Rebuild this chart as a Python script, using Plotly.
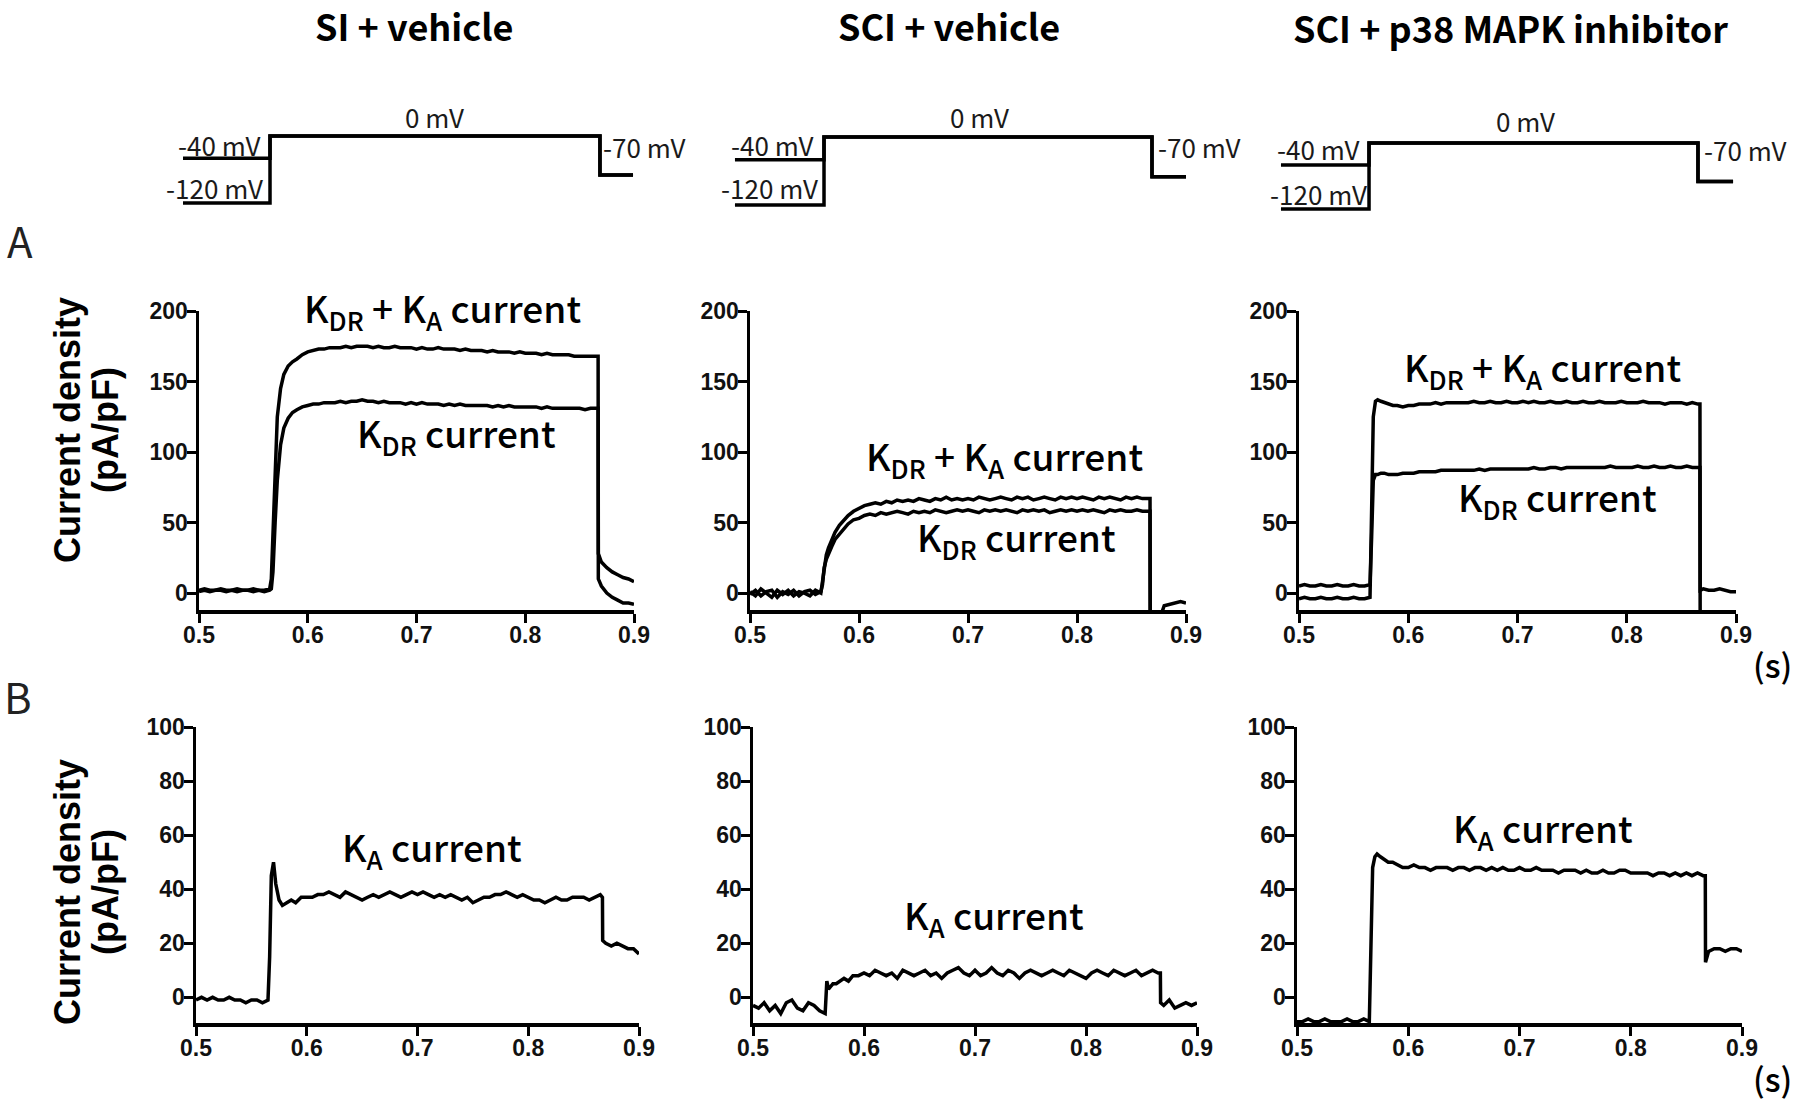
import plotly.graph_objects as go

# ---------------- time base (s) ----------------
t_base = [0.500, 0.505, 0.510, 0.515, 0.520, 0.525, 0.530, 0.535, 0.540, 0.545, 0.550, 0.555, 0.560, 0.565]
t_rise = [0.5665, 0.568, 0.570, 0.572, 0.575, 0.578, 0.582, 0.586, 0.590, 0.595]
t_plat = [0.600, 0.605, 0.610, 0.615, 0.620, 0.625, 0.630, 0.635, 0.640, 0.645,
          0.650, 0.655, 0.660, 0.665, 0.670, 0.675, 0.680, 0.685, 0.690, 0.695,
          0.700, 0.705, 0.710, 0.715, 0.720, 0.725, 0.730, 0.735, 0.740, 0.745,
          0.750, 0.755, 0.760, 0.765, 0.770, 0.775, 0.780, 0.785, 0.790, 0.795,
          0.800, 0.805, 0.810, 0.815, 0.820, 0.825, 0.830, 0.835, 0.840, 0.845,
          0.850, 0.855, 0.860, 0.865]
t_drop = [0.867, 0.8672]
t_tail = [0.870, 0.875, 0.880, 0.885, 0.890, 0.895, 0.900]
time_s = t_base + t_rise + t_plat + t_drop + t_tail

# ---------------- current densities (pA/pF) ----------------
# SI + vehicle
si_kdr_ka = [2, 3, 2, 2, 3, 2, 2, 3, 2, 2, 3, 2, 2, 3,
             10, 45, 95, 125, 145, 155, 161, 164, 166, 169,
             171, 172, 173, 173, 174, 174, 174, 175, 174, 175,
             175, 175, 174, 175, 174, 174, 175, 174, 174, 174,
             173, 174, 173, 173, 174, 173, 173, 173, 172, 173,
             172, 172, 172, 171, 172, 171, 171, 171, 170, 171,
             170, 170, 170, 169, 170, 169, 169, 169, 169, 168,
             168, 168, 168, 168,
             168, 28,
             22, 18, 15, 13, 11, 10, 8]
si_kdr = [1, 2, 1, 2, 2, 1, 2, 1, 2, 2, 1, 2, 1, 2,
          3, 15, 50, 80, 105, 117, 124, 128, 130, 132,
          133, 134, 134, 135, 135, 135, 136, 135, 136, 136,
          137, 136, 136, 135, 136, 135, 135, 135, 134, 135,
          134, 135, 134, 134, 134, 133, 134, 133, 134, 133,
          133, 133, 133, 133, 132, 133, 132, 133, 132, 132,
          132, 132, 132, 131, 132, 131, 131, 131, 131, 131,
          131, 130, 131, 131,
          131, 10,
          5, 0, -3, -5, -7, -7, -8]
si_ka = [-1, 0, -1, 0, -1, -1, 0, -1, -1, -2, -1, -1, -2, -1,
         15, 45, 50, 42, 36, 34, 35, 36, 35, 37,
         37, 37, 38, 38, 39, 38, 37, 39, 38, 37,
         36, 37, 38, 37, 38, 39, 38, 37, 38, 39,
         38, 39, 38, 37, 38, 37, 38, 37, 36, 37,
         35, 36, 37, 37, 38, 38, 39, 38, 37, 38,
         37, 36, 36, 35, 36, 37, 36, 36, 37, 37,
         37, 36, 37, 38,
         37, 21,
         20, 19, 20, 19, 18, 18, 16]

# SCI + vehicle
sci_kdr_ka = [1, -2, 3, 0, -3, 2, -1, 2, -2, 1, 0, -2, 2, 0,
              8, 20, 27, 32, 38, 43, 48, 52, 55, 58,
              60, 62, 63, 64, 63, 65, 64, 66, 65, 66,
              65, 67, 66, 65, 67, 66, 68, 66, 67, 66,
              67, 66, 68, 67, 66, 67, 68, 67, 66, 68,
              67, 68, 66, 67, 68, 67, 66, 68, 67, 68,
              67, 68, 67, 66, 68, 67, 68, 67, 66, 68,
              67, 68, 67, 67,
              67, -20,
              -20, -20, -9, -8, -7, -6, -7]
sci_kdr = [-1, 2, -2, 1, 2, -3, 1, -1, 2, -2, 1, 2, -1, 1,
           6, 18, 24, 28, 33, 38, 42, 46, 49, 52,
           53, 55, 56, 55, 57, 56, 57, 58, 57, 56,
           58, 57, 58, 57, 59, 58, 57, 58, 59, 58,
           59, 58, 57, 59, 58, 59, 58, 59, 58, 57,
           59, 58, 59, 58, 59, 57, 58, 59, 58, 59,
           58, 59, 58, 59, 58, 57, 59, 58, 59, 58,
           58, 59, 58, 58,
           58, -20,
           -20, -20, -20, -20, -20, -20, -20]
sci_ka = [-3, -4, -2, -5, -3, -6, -2, -1, -4, -5, -2, -3, -5, -6,
          6, 3, 4, 5, 5, 6, 7, 6, 8, 8,
          9, 8, 10, 9, 8, 9, 7, 10, 9, 8,
          9, 10, 8, 9, 7, 9, 10, 11, 9, 8,
          10, 8, 9, 11, 9, 8, 10, 9, 7, 9,
          10, 9, 8, 9, 10, 9, 8, 10, 9, 8,
          7, 9, 10, 9, 8, 10, 9, 8, 9, 10,
          8, 9, 10, 9,
          9, -2,
          -3, -1, -4, -3, -2, -3, -2]

# SCI + p38 MAPK inhibitor
p38_kdr_ka = [-4, -3, -4, -4, -3, -4, -4, -3, -4, -4, -3, -4, -4, -3,
              60, 125, 136, 137, 136, 135, 134, 133, 133, 132,
              133, 133, 134, 134, 134, 135, 134, 135, 135, 135,
              135, 135, 136, 135, 135, 136, 135, 135, 136, 135,
              135, 136, 135, 136, 135, 135, 136, 135, 135, 136,
              135, 135, 136, 135, 135, 136, 135, 135, 135, 136,
              135, 135, 135, 136, 135, 135, 135, 134, 135, 135,
              135, 134, 135, 134,
              134, 2,
              3, 2, 2, 3, 2, 1, 1]
p38_kdr = [5, 6, 5, 5, 6, 5, 5, 6, 5, 5, 6, 5, 5, 6,
           40, 80, 84, 84, 85, 85, 84, 84, 84, 85,
           85, 85, 86, 86, 86, 86, 87, 87, 87, 87,
           87, 87, 87, 88, 87, 88, 88, 88, 88, 88,
           88, 88, 88, 89, 88, 88, 89, 89, 88, 89,
           89, 89, 89, 89, 89, 89, 89, 90, 89, 89,
           89, 89, 90, 89, 89, 90, 89, 89, 90, 89,
           89, 90, 89, 89,
           89, -20,
           -16, -16, -16, -16, -16, -16, -16]
p38_ka = [-9, -9, -8, -9, -9, -8, -9, -9, -9, -8, -9, -9, -8, -9,
          20, 48, 52, 53, 52, 51, 50, 50, 49, 48,
          48, 49, 48, 48, 47, 48, 48, 48, 47, 48,
          48, 47, 48, 48, 47, 48, 47, 48, 47, 47,
          48, 47, 47, 48, 47, 47, 47, 46, 47, 47,
          47, 46, 47, 46, 46, 47, 46, 46, 47, 47,
          46, 46, 46, 46, 45, 46, 46, 45, 46, 45,
          46, 45, 46, 45,
          45, 13,
          17, 18, 18, 17, 18, 18, 17]

for _name, _arr in [("si_kdr_ka", si_kdr_ka), ("si_kdr", si_kdr), ("si_ka", si_ka),
                    ("sci_kdr_ka", sci_kdr_ka), ("sci_kdr", sci_kdr), ("sci_ka", sci_ka),
                    ("p38_kdr_ka", p38_kdr_ka), ("p38_kdr", p38_kdr), ("p38_ka", p38_ka)]:
    if len(_arr) != len(time_s):
        raise ValueError(f"{_name}: {len(_arr)} values vs {len(time_s)} times")

# ---------------- voltage protocol (schematic) ----------------
prot_t_si = [0.4853, 0.5653, 0.5653, 0.8687, 0.8687, 0.8991]
prot_t_sci = [0.4862, 0.5679, 0.5679, 0.8688, 0.8688, 0.9000]
prot_t_p38 = [0.4835, 0.5641, 0.5641, 0.8652, 0.8652, 0.8973]
prot_v_from_120 = [-120, -120, 0, 0, -70, -70]
prot_v_from_40 = [-40, -40, 0, 0, -70, -70]

group_titles = ["SI + vehicle", "SCI + vehicle", "SCI + p38 MAPK inhibitor"]
x_ticks = [0.5, 0.6, 0.7, 0.8, 0.9]
x_ticktext = ["0.5", "0.6", "0.7", "0.8", "0.9"]
a_ticks = [0, 50, 100, 150, 200]
b_ticks = [0, 20, 40, 60, 80, 100]

# ---------------- geometry helpers ----------------
W, H = 1800, 1104
CJK = "Noto Sans CJK JP"
ARIAL = "Liberation Sans"


def xf(px):
    return px / W


def yf(py):
    return 1 - py / H


A_Y = (311, 610)
B_Y = (727, 1023)
current_panels = [
    ((199, 634), A_Y, [-12, 200], a_ticks, [si_kdr_ka, si_kdr]),
    ((750, 1186), A_Y, [-12, 200], a_ticks, [sci_kdr_ka, sci_kdr]),
    ((1299, 1736), A_Y, [-12, 200], a_ticks, [p38_kdr_ka, p38_kdr]),
    ((196, 639), B_Y, [-9.5, 100], b_ticks, [si_ka]),
    ((753, 1197), B_Y, [-9.5, 100], b_ticks, [sci_ka]),
    ((1297, 1742), B_Y, [-9.5, 100], b_ticks, [p38_ka]),
]

fig = go.Figure()
layout = dict(
    width=W, height=H,
    margin=dict(l=0, r=0, t=0, b=0, pad=0),
    paper_bgcolor="white", plot_bgcolor="rgba(0,0,0,0)",
    showlegend=False,
    font=dict(family=ARIAL, color="black"),
)

tickfont = dict(family=ARIAL, size=23, color="#111111", weight="bold")

for i, (xpx, ypx, yr, yt, traces) in enumerate(current_panels, start=1):
    sfx = "" if i == 1 else str(i)
    layout["xaxis" + sfx] = dict(
        domain=[xf(xpx[0]), xf(xpx[1])], range=[0.5, 0.9], anchor="y" + sfx,
        tickvals=x_ticks, ticktext=x_ticktext, showline=True, linecolor="black",
        linewidth=3.5, ticks="outside", ticklen=9, tickwidth=3, tickcolor="black",
        showgrid=False, zeroline=False, tickfont=tickfont, fixedrange=True,
        automargin=False, ticklabelstandoff=-7)
    layout["yaxis" + sfx] = dict(
        domain=[yf(ypx[1]), yf(ypx[0])], range=yr, anchor="x" + sfx,
        tickvals=yt, showline=True, linecolor="black",
        linewidth=3.5, ticks="outside", ticklen=9, tickwidth=3, tickcolor="black",
        showgrid=False, zeroline=False, tickfont=tickfont, fixedrange=True,
        automargin=False, ticklabelstandoff=-6)
    for vals in traces:
        fig.add_trace(go.Scatter(x=time_s, y=vals, mode="lines",
                                 line=dict(color="black", width=3.5),
                                 xaxis="x" + sfx, yaxis="y" + sfx,
                                 hoverinfo="skip"))

# protocol schematics: (A-panel x px, window px, 0 mV px, -120 mV px, times)
prot_panels = [
    ((199, 634), (150, 700), 136, 203, prot_t_si),
    ((750, 1186), (700, 1250), 137, 205, prot_t_sci),
    ((1299, 1736), (1250, 1799), 143, 209, prot_t_p38),
]
WIN_Y = (100, 240)
for j, (apx, win, p0, p120, pt) in enumerate(prot_panels, start=7):
    sfx = str(j)
    s = (apx[1] - apx[0]) / 0.4
    t0 = 0.5 + (win[0] - apx[0]) / s
    t1 = 0.5 + (win[1] - apx[0]) / s
    k = (p120 - p0) / 120.0
    vtop = (p0 - WIN_Y[0]) / k
    vbot = -(WIN_Y[1] - p0) / k
    layout["xaxis" + sfx] = dict(domain=[xf(win[0]), xf(win[1])], range=[t0, t1],
                                 anchor="y" + sfx, visible=False, fixedrange=True,
                                 automargin=False)
    layout["yaxis" + sfx] = dict(domain=[yf(WIN_Y[1]), yf(WIN_Y[0])], range=[vbot, vtop],
                                 anchor="x" + sfx, visible=False, fixedrange=True,
                                 automargin=False)
    for vv in (prot_v_from_120, prot_v_from_40):
        fig.add_trace(go.Scatter(x=pt, y=vv, mode="lines",
                                 line=dict(color="black", width=3.5, shape="linear"),
                                 xaxis="x" + sfx, yaxis="y" + sfx, hoverinfo="skip"))

ann = []


def add_text(text, x, y, size, family=CJK, weight="normal", xanchor="center",
             yanchor="middle", angle=0, color="black"):
    ann.append(dict(text=text, x=xf(x), y=yf(y), xref="paper", yref="paper",
                    showarrow=False, xanchor=xanchor, yanchor=yanchor,
                    textangle=angle,
                    font=dict(family=family, size=size, color=color, weight=weight)))


# group titles
for title, (cx, cy) in zip(group_titles, [(414, 25), (949, 25), (1510, 27)]):
    add_text(title, cx, cy, 36, weight="bold")

# protocol labels
prot_labels = [
    ((434, 117), (262, 145), (265, 188), (601, 146)),
    ((980, 117), (815, 145), (820, 188), (1156, 146)),
    ((1525, 120), (1361, 148), (1369, 193), (1702, 149)),
]
for zero, m40, m120, m70 in prot_labels:
    add_text("0 mV", zero[0], zero[1], 26, color="#1a1a1a")
    add_text("-40 mV", m40[0], m40[1], 26, xanchor="right", color="#1a1a1a")
    add_text("-120 mV", m120[0], m120[1], 26, xanchor="right", color="#1a1a1a")
    add_text("-70 mV", m70[0], m70[1], 26, xanchor="left", color="#1a1a1a")

# panel letters
add_text("A", 20, 240, 42, color="#222222")
add_text("B", 18, 695, 42, color="#222222")

# y-axis titles
for cy in (430, 892):
    add_text("Current density", 67, cy, 36, family=ARIAL, weight="bold", angle=-90)
    add_text("(pA/pF)", 105, cy, 36, family=ARIAL, weight="bold", angle=-90)

# time unit
add_text("(s)", 1772, 664, 33, weight=500)
add_text("(s)", 1772, 1078, 33, weight=500)

# current labels
kdrka = "K<sub>DR</sub> + K<sub>A</sub> current"
kdr = "K<sub>DR</sub> current"
ka = "K<sub>A</sub> current"
for text, (cx, cy) in [
    (kdrka, (442, 309)), (kdr, (456, 434)),
    (kdrka, (1004, 457)), (kdr, (1016, 538)),
    (kdrka, (1542, 368)), (kdr, (1557, 498)),
    (ka, (432, 848)), (ka, (994, 916)), (ka, (1543, 829)),
]:
    add_text(text, cx, cy, 37, weight=500)

layout["annotations"] = ann
fig.update_layout(**layout)
fig.write_html(
    "out.html",
    config={"displayModeBar": False, "staticPlot": True},
    post_script="document.body.style.margin='0px';document.body.style.padding='0px';"
                "document.documentElement.style.overflow='hidden';",
)
